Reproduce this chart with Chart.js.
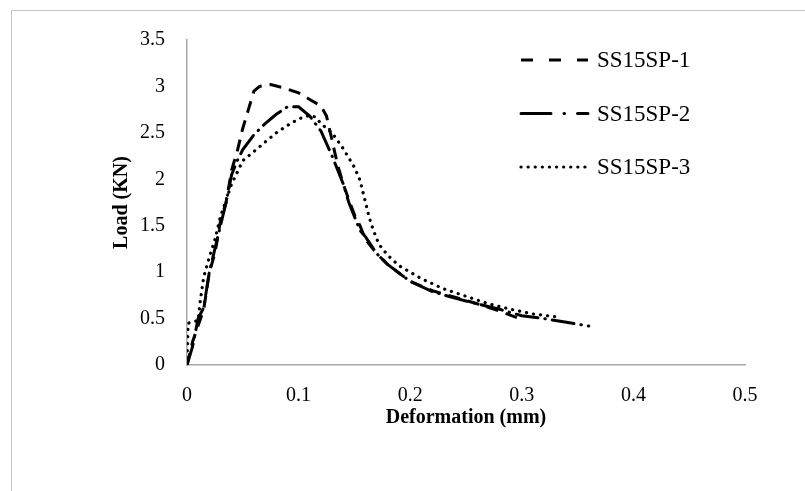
<!DOCTYPE html>
<html>
<head>
<meta charset="utf-8">
<script src="https://cdn.jsdelivr.net/npm/chart.js@4/dist/chart.umd.min.js"></script>
<style>
  html, body { margin: 0; padding: 0; background: #ffffff; }
  #wrap { width: 805px; height: 491px; }
</style>
</head>
<body>
<div id="wrap"><canvas id="c" width="805" height="491"></canvas></div>
<script>
// ---- data ----
const seriesNames = ['SS15SP-1', 'SS15SP-2', 'SS15SP-3'];

const x1 = [0, 0.005, 0.015, 0.02, 0.025, 0.03, 0.035, 0.04, 0.045, 0.05, 0.055, 0.06, 0.065, 0.075, 0.085, 0.1, 0.11, 0.12, 0.125, 0.13, 0.135, 0.14, 0.145, 0.15, 0.155, 0.16, 0.17, 0.18, 0.2, 0.22, 0.24, 0.26, 0.28, 0.3];
const y1 = [0, 0.25, 0.6, 1.0, 1.2, 1.55, 1.75, 2.1, 2.3, 2.55, 2.75, 2.95, 3.0, 3.02, 2.99, 2.93, 2.86, 2.79, 2.68, 2.42, 2.15, 1.95, 1.78, 1.62, 1.5, 1.35, 1.2, 1.08, 0.9, 0.8, 0.73, 0.66, 0.58, 0.49];

const x2 = [0, 0.005, 0.01, 0.015, 0.02, 0.025, 0.03, 0.035, 0.04, 0.045, 0.05, 0.06, 0.07, 0.08, 0.09, 0.1, 0.11, 0.12, 0.13, 0.14, 0.145, 0.15, 0.155, 0.16, 0.17, 0.18, 0.2, 0.22, 0.24, 0.26, 0.28, 0.3, 0.32, 0.34, 0.36];
const y2 = [0, 0.2, 0.5, 0.62, 1.0, 1.25, 1.5, 1.75, 2.05, 2.2, 2.32, 2.48, 2.6, 2.7, 2.78, 2.78, 2.68, 2.52, 2.25, 1.95, 1.75, 1.6, 1.45, 1.38, 1.2, 1.08, 0.9, 0.79, 0.72, 0.66, 0.6, 0.53, 0.5, 0.46, 0.42];

const x3 = [0, 0.001, 0.01, 0.012, 0.015, 0.02, 0.025, 0.03, 0.04, 0.05, 0.06, 0.07, 0.08, 0.09, 0.1, 0.11, 0.115, 0.12, 0.13, 0.14, 0.15, 0.155, 0.16, 0.163, 0.167, 0.172, 0.18, 0.19, 0.21, 0.23, 0.25, 0.27, 0.29, 0.31, 0.33];
const y3 = [0, 0.45, 0.48, 0.7, 0.95, 1.16, 1.35, 1.6, 1.95, 2.2, 2.3, 2.4, 2.5, 2.58, 2.65, 2.69, 2.67, 2.6, 2.5, 2.33, 2.13, 1.99, 1.75, 1.6, 1.45, 1.3, 1.18, 1.07, 0.93, 0.82, 0.74, 0.66, 0.6, 0.55, 0.52];

const xTickLabels = ['0', '0.1', '0.2', '0.3', '0.4', '0.5'];
const yTickLabels = ['0', '0.5', '1', '1.5', '2', '2.5', '3', '3.5'];

const xTitle = 'Deformation (mm)';
const yTitle = 'Load (KN)';

// ---- build chart ----
function pts(xs, ys) { return xs.map((x, i) => ({ x: x, y: ys[i] })); }

const FONT = 'Liberation Serif, Times New Roman, serif';

const frame = {
  id: 'frame',
  beforeDraw(chart) {
    const ctx = chart.ctx;
    ctx.save();
    ctx.fillStyle = '#ffffff';
    ctx.fillRect(0, 0, chart.width, chart.height);
    ctx.strokeStyle = '#c4c4c4';
    ctx.lineWidth = 1;
    ctx.strokeRect(11.5, 10.5, chart.width + 10, chart.height + 10);
    ctx.restore();
  }
};

const customLegend = {
  id: 'customLegend',
  afterDraw(chart) {
    const ctx = chart.ctx;
    ctx.save();
    chart.data.datasets.forEach((ds, i) => {
      const y = 60 + i * 53.5;
      ctx.beginPath();
      ctx.setLineDash(ds.legendDash || ds.borderDash || []);
      ctx.lineCap = ds.borderCapStyle || 'butt';
      ctx.lineWidth = ds.borderWidth;
      ctx.strokeStyle = ds.borderColor;
      ctx.moveTo(521, y);
      ctx.lineTo(588, y);
      ctx.stroke();
      ctx.setLineDash([]);
      ctx.fillStyle = '#000000';
      ctx.font = '23px ' + FONT;
      ctx.textBaseline = 'middle';
      ctx.textAlign = 'left';
      ctx.fillText(ds.label, 597, y + 1);
    });
    ctx.restore();
  }
};

new Chart(document.getElementById('c'), {
  type: 'line',
  data: {
    datasets: [
      { label: seriesNames[0], data: pts(x1, y1), borderColor: '#000000', borderWidth: 3, borderDash: [12, 8], legendDash: [12, 16], borderCapStyle: 'butt', pointRadius: 0, tension: 0, fill: false },
      { label: seriesNames[1], data: pts(x2, y2), borderColor: '#000000', borderWidth: 3, borderDash: [22, 7, 0.5, 7], legendDash: [30, 13, 0.5, 13], borderCapStyle: 'round', pointRadius: 0, tension: 0, fill: false },
      { label: seriesNames[2], data: pts(x3, y3), borderColor: '#000000', borderWidth: 3.2, borderDash: [0.1, 7], legendDash: [0.1, 7], borderCapStyle: 'round', pointRadius: 0, tension: 0, fill: false }
    ]
  },
  options: {
    responsive: false,
    animation: false,
    devicePixelRatio: 1,
    parsing: true,
    layout: { padding: { left: 0, right: 60, top: 40, bottom: 0 } },
    plugins: {
      legend: { display: false },
      tooltip: { enabled: false },
      title: { display: false }
    },
    scales: {
      x: {
        type: 'linear',
        min: 0, max: 0.5,
        grid: { display: false, drawTicks: false, tickLength: 0 },
        border: { display: true, color: '#a8a8a8', width: 1.5 },
        ticks: {
          stepSize: 0.1,
          padding: 19,
          color: '#000000',
          font: { family: FONT, size: 20 },
          maxRotation: 0,
          callback: (v, i) => xTickLabels[i]
        },
        title: {
          display: true, text: xTitle, color: '#000000',
          font: { family: FONT, size: 20, weight: 'bold' },
          padding: { top: 0, bottom: 61 }
        },
        afterFit(scale) { scale.height = 126; }
      },
      y: {
        type: 'linear',
        min: 0, max: 3.5,
        grid: { display: false, drawTicks: false, tickLength: 0 },
        border: { display: true, color: '#a8a8a8', width: 1.5 },
        ticks: {
          stepSize: 0.5,
          padding: 22,
          color: '#000000',
          font: { family: FONT, size: 20 },
          callback: (v, i) => yTickLabels[i]
        },
        title: {
          display: true, text: yTitle, color: '#000000',
          font: { family: FONT, size: 20, weight: 'bold' },
          padding: { top: 110, bottom: 0 }
        },
        afterFit(scale) { scale.width = 187; }
      }
    }
  },
  plugins: [frame, customLegend]
});
</script>
</body>
</html>
